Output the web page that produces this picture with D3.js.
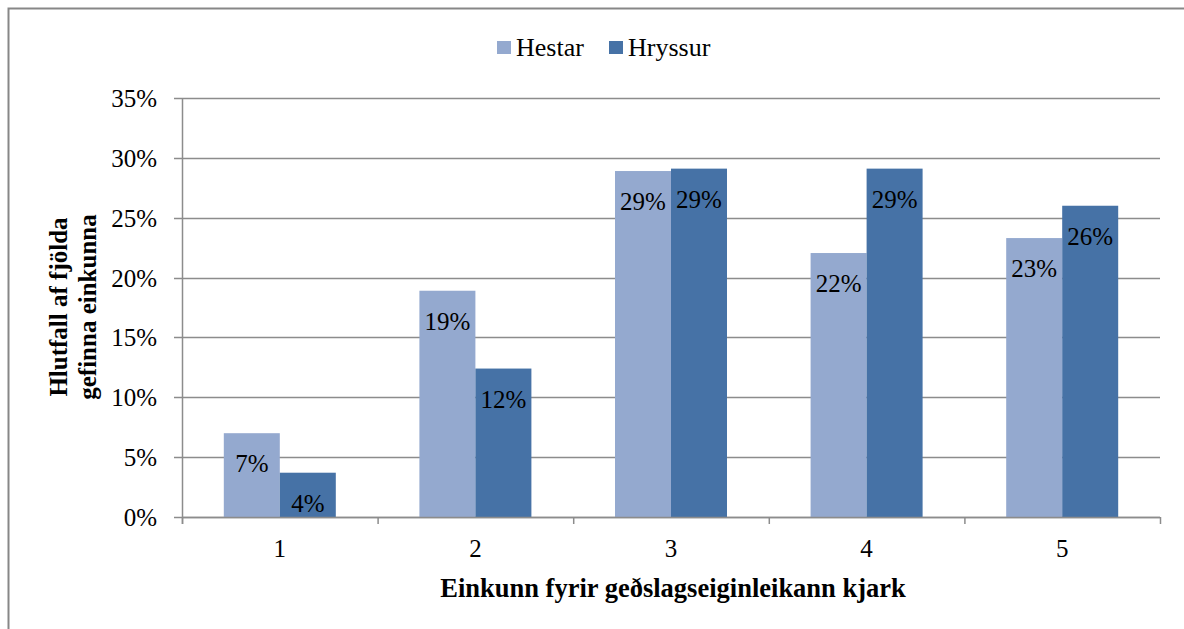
<!DOCTYPE html>
<html><head><meta charset="utf-8">
<script src="https://cdn.jsdelivr.net/npm/d3@7"></script>
<style>body{margin:0;background:#fff}svg{display:block}</style>
</head><body><svg id="c" width="1184" height="629"></svg>
<script>
const categories = ["1","2","3","4","5"];
const seriesNames = ["Hestar","Hryssur"];
const hestar = [0.07, 0.189, 0.289, 0.2205, 0.233];
const hryssur = [0.037, 0.124, 0.291, 0.291, 0.26];
const yTicks = [0,0.05,0.10,0.15,0.20,0.25,0.30,0.35];
const colors = ["#94A9CF","#4672A6"];
const values = [hestar, hryssur];
const FF = "Liberation Serif";
const FS = 25;

const svg = d3.select("#c");
svg.append("rect").attr("x",8.5).attr("y",8.5).attr("width",1190).attr("height",640)
  .attr("fill","#fff").attr("stroke","#878787").attr("stroke-width",2);

const L=182, R=1160, T=98, B=517;
const x = d3.scaleBand().domain(categories).range([L,R]).paddingInner(0).paddingOuter(0);
const y = d3.scaleLinear().domain([0,0.35]).range([B,T]);
const barW = 56;
const gridColor = "#8c8c8c";
const fmt = d3.format(".0%");

svg.append("g").selectAll("line").data(yTicks).join("line")
  .attr("x1",L-8).attr("x2",R).attr("y1",d=>Math.round(y(d))+0.5).attr("y2",d=>Math.round(y(d))+0.5)
  .attr("stroke",gridColor).attr("stroke-width",1.3);

svg.append("g").selectAll("text").data(yTicks).join("text")
  .attr("x",157).attr("y",d=>y(d)+9).attr("text-anchor","end").style("font-family",FF)
  .attr("font-size",FS).attr("fill","#000").text(d=>fmt(d));

categories.forEach((c,i)=>{
  const cx = x(c)+x.bandwidth()/2;
  values.forEach((vals,s)=>{
    const bx = cx - barW + s*barW;
    const v = vals[i];
    svg.append("rect").attr("x",bx).attr("y",y(v)).attr("width",barW).attr("height",B-y(v))
      .attr("fill",colors[s]);
    svg.append("text").attr("x",bx+barW/2).attr("y",y(v)+39).attr("text-anchor","middle").style("font-family",FF)
      .attr("font-size",FS).attr("fill","#000").text(fmt(v));
  });
});

svg.append("line").attr("x1",L+0.5).attr("x2",L+0.5).attr("y1",T).attr("y2",B+7).attr("stroke",gridColor).attr("stroke-width",1.5);
svg.append("line").attr("x1",L).attr("x2",R).attr("y1",B+0.5).attr("y2",B+0.5).attr("stroke",gridColor).attr("stroke-width",1.5);
const xb = categories.map(c=>x(c)).concat([R]);
svg.append("g").selectAll("line").data(xb).join("line")
  .attr("x1",d=>d+0.5).attr("x2",d=>d+0.5).attr("y1",B).attr("y2",B+7).attr("stroke",gridColor).attr("stroke-width",1.5);

svg.append("g").selectAll("text").data(categories).join("text")
  .attr("x",d=>x(d)+x.bandwidth()/2).attr("y",557).attr("text-anchor","middle").style("font-family",FF)
  .attr("font-size",FS).text(d=>d);

svg.append("text").attr("x",673).attr("y",597).attr("text-anchor","middle").style("font-family",FF)
  .attr("font-size",26.5).attr("font-weight","bold").text("Einkunn fyrir geðslagseiginleikann kjark");

const yt = svg.append("text").attr("transform","translate(0,307) rotate(-90)").style("font-family",FF)
  .attr("text-anchor","middle").attr("font-size",FS).attr("font-weight","bold");
yt.append("tspan").attr("x",0).attr("y",67).text("Hlutfall af fjölda");
yt.append("tspan").attr("x",0).attr("y",96).text("gefinna einkunna");

const leg = [{n:seriesNames[0],x:497,c:colors[0]},{n:seriesNames[1],x:609,c:colors[1]}];
leg.forEach(l=>{
  svg.append("rect").attr("x",l.x).attr("y",41).attr("width",14).attr("height",13).attr("fill",l.c);
  svg.append("text").attr("x",l.x+19).attr("y",56).style("font-family",FF).attr("font-size",26).text(l.n);
});
</script></body></html>
